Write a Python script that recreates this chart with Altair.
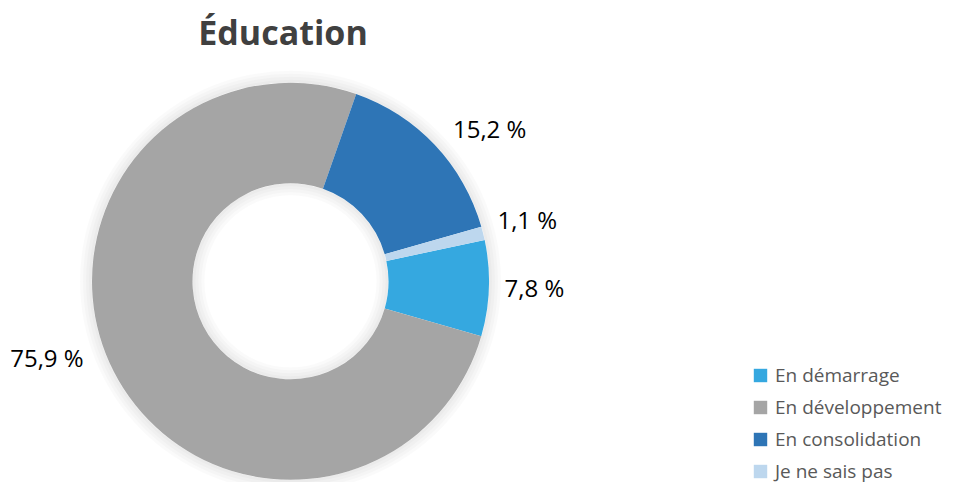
import math
import altair as alt
import pandas as pd

categories = ["En démarrage", "En développement", "En consolidation", "Je ne sais pas"]
values = [7.8, 75.9, 15.2, 1.1]
labels = ["7,8 %", "75,9 %", "15,2 %", "1,1 %"]
colors = ["#35A8E0", "#A5A5A5", "#2E75B6", "#BDD7EE"]
title_text = ["Éducation"]

df = pd.DataFrame({"cat": categories, "value": values, "label": labels,
                   "idx": list(range(len(categories)))})

start = math.radians(78)
theta_scale = alt.Scale(domain=[0, 100], range=[start, start + 2 * math.pi])
color_scale = alt.Scale(domain=categories, range=colors)

CX, CY = 282.5, 273.3
R_IN, R_OUT = 98, 198.5
FONT = "Open Sans"

base = alt.Chart(df)

# faint soft shadow around the ring
one = alt.Chart(pd.DataFrame({"k": [0]}))
glow = []
for k in (3, 6, 9, 12):
    glow.append(one.mark_arc(theta=0, theta2=2 * math.pi, radius=R_OUT, radius2=R_OUT + k,
                             color="#000000", opacity=0.018).encode(
        x=alt.value(CX), y=alt.value(CY)))
    glow.append(one.mark_arc(theta=0, theta2=2 * math.pi, radius=R_IN - k, radius2=R_IN,
                             color="#000000", opacity=0.018).encode(
        x=alt.value(CX), y=alt.value(CY)))

arcs = base.mark_arc(innerRadius=R_IN, outerRadius=R_OUT).encode(
    theta=alt.Theta("value:Q", stack=True, scale=theta_scale),
    color=alt.Color("cat:N", scale=color_scale, sort=categories,
                    legend=alt.Legend(title=None, orient="none", legendX=743, legendY=358,
                                      labelFont=FONT, labelFontSize=19, labelColor="#595959",
                                      labelLimit=400,
                                      symbolType="square", symbolSize=180, rowPadding=12,
                                      labelOffset=5, padding=0, symbolStrokeWidth=0)),
    order=alt.Order("idx:Q"),
    x=alt.value(CX), y=alt.value(CY),
)

lab = base.transform_window(
    cum="sum(value)", sort=[alt.SortField("idx")], frame=[None, 0]
).transform_calculate(mid="datum.cum - datum.value / 2")


def label_layer(cats, radius, dx=0, dy=0):
    return lab.transform_filter(
        alt.FieldOneOfPredicate(field="cat", oneOf=cats)
    ).mark_text(radius=radius, dx=dx, dy=dy, font=FONT, fontSize=24, color="#000000",
                align="center", baseline="middle").encode(
        theta=alt.Theta("mid:Q", stack=None, scale=theta_scale),
        text="label:N",
        x=alt.value(CX), y=alt.value(CY),
    )


l_small = label_layer(["En démarrage", "Je ne sais pas"], 244)
l_cons = label_layer(["En consolidation"], 249, dx=18, dy=21)
l_dev = label_layer(["En développement"], 255, dx=-17, dy=-38)

title = alt.Chart(pd.DataFrame({"t": title_text})).mark_text(
    font=FONT, fontSize=34, fontWeight="bold", color="#404040",
    align="center", baseline="alphabetic"
).encode(text="t:N", x=alt.value(275), y=alt.value(37))

chart = alt.layer(*glow, arcs, l_small, l_cons, l_dev, title).properties(
    width=947, height=474, autosize="none", padding=0
).configure_view(strokeWidth=0)

chart.save("out.html", embed_options={"renderer": "svg", "actions": False})
